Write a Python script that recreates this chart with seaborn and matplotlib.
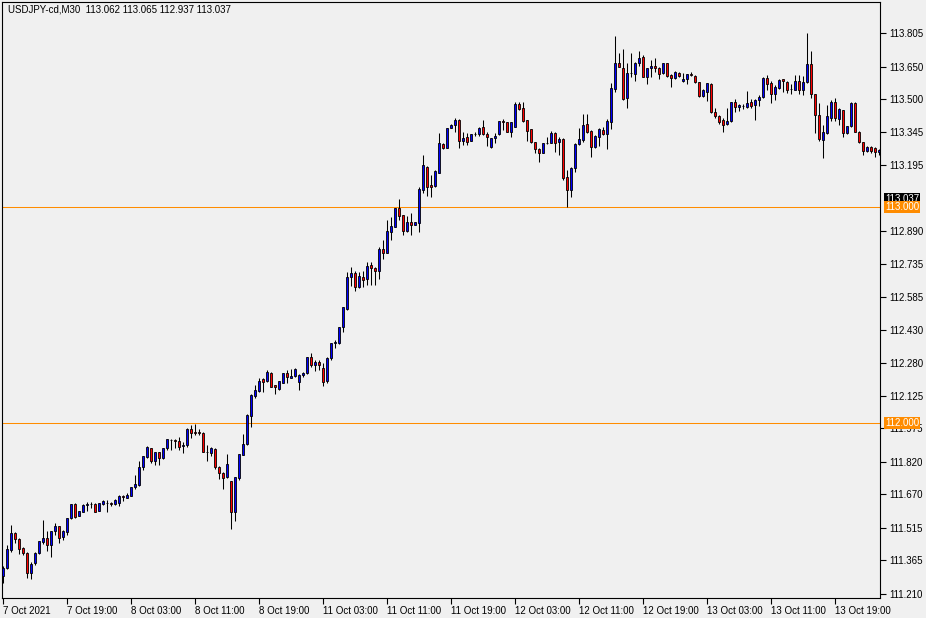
import numpy as np
import pandas as pd
import seaborn as sns
import matplotlib
matplotlib.use("Agg")
import matplotlib.pyplot as plt

# ---------------- data ----------------
opens = [
    111.290, 111.330, 111.412, 111.491, 111.463, 111.421, 111.398, 111.306, 111.352, 111.398,
    111.449, 111.468, 111.435, 111.500, 111.523, 111.472, 111.495, 111.560, 111.625, 111.570,
    111.588, 111.620, 111.625, 111.625, 111.593, 111.625, 111.632, 111.628, 111.625, 111.630,
    111.660, 111.655, 111.663, 111.704, 111.713, 111.795, 111.843, 111.883, 111.826, 111.864,
    111.836, 111.883, 111.922, 111.920, 111.917, 111.893, 111.898, 111.971, 111.960, 111.957,
    111.952, 111.867, 111.862, 111.878, 111.798, 111.767, 111.749, 111.731, 111.587, 111.744,
    111.852, 111.901, 112.034, 112.126, 112.150, 112.202, 112.196, 112.230, 112.176, 112.157,
    112.187, 112.230, 112.210, 112.218, 112.191, 112.222, 112.230, 112.304, 112.269, 112.284,
    112.255, 112.196, 112.300, 112.369, 112.369, 112.443, 112.528, 112.677, 112.693, 112.628,
    112.674, 112.665, 112.731, 112.716, 112.705, 112.804, 112.789, 112.886, 112.909, 112.997,
    112.963, 112.890, 112.929, 112.917, 112.927, 113.079, 113.187, 113.102, 113.099, 113.159,
    113.292, 113.275, 113.367, 113.380, 113.403, 113.307, 113.323, 113.307, 113.336, 113.336,
    113.369, 113.338, 113.279, 113.318, 113.336, 113.398, 113.392, 113.349, 113.369, 113.475,
    113.457, 113.403, 113.360, 113.299, 113.267, 113.251, 113.295, 113.295, 113.341, 113.299,
    113.315, 113.137, 113.079, 113.182, 113.290, 113.310, 113.383, 113.352, 113.276, 113.325,
    113.356, 113.336, 113.392, 113.545, 113.665, 113.642, 113.503, 113.619, 113.614, 113.668,
    113.696, 113.603, 113.642, 113.653, 113.642, 113.619, 113.665, 113.611, 113.596, 113.622,
    113.583, 113.593, 113.614, 113.606, 113.577, 113.515, 113.534, 113.569, 113.438, 113.421,
    113.403, 113.383, 113.398, 113.485, 113.462, 113.466, 113.463, 113.485, 113.474, 113.497,
    113.508, 113.597, 113.574, 113.525, 113.551, 113.593, 113.579, 113.546, 113.543, 113.582,
    113.543, 113.577, 113.662, 113.523, 113.425, 113.312, 113.343, 113.413, 113.488, 113.406,
    113.449, 113.341, 113.375, 113.480, 113.349, 113.299, 113.261, 113.279, 113.272, 113.253,
]
highs = [
    111.340, 111.435, 111.528, 111.495, 111.468, 111.426, 111.403, 111.356, 111.403, 111.454,
    111.551, 111.500, 111.500, 111.537, 111.523, 111.505, 111.560, 111.625, 111.630, 111.593,
    111.625, 111.634, 111.634, 111.630, 111.630, 111.644, 111.644, 111.635, 111.648, 111.665,
    111.667, 111.676, 111.704, 111.759, 111.825, 111.847, 111.894, 111.883, 111.864, 111.866,
    111.885, 111.926, 111.926, 111.926, 111.935, 111.912, 111.975, 111.991, 111.995, 111.971,
    111.957, 111.898, 111.887, 111.883, 111.801, 111.775, 111.857, 111.731, 111.749, 111.856,
    111.949, 112.042, 112.134, 112.176, 112.207, 112.207, 112.245, 112.235, 112.176, 112.196,
    112.230, 112.245, 112.249, 112.253, 112.225, 112.238, 112.307, 112.323, 112.292, 112.292,
    112.279, 112.307, 112.372, 112.384, 112.446, 112.539, 112.700, 112.724, 112.705, 112.700,
    112.705, 112.747, 112.747, 112.724, 112.815, 112.847, 112.940, 112.952, 112.994, 113.037,
    112.963, 112.958, 112.971, 112.931, 113.094, 113.241, 113.190, 113.148, 113.171, 113.344,
    113.298, 113.364, 113.383, 113.411, 113.406, 113.349, 113.344, 113.338, 113.349, 113.372,
    113.403, 113.349, 113.321, 113.341, 113.398, 113.406, 113.395, 113.395, 113.487, 113.487,
    113.487, 113.403, 113.360, 113.302, 113.272, 113.295, 113.325, 113.352, 113.346, 113.323,
    113.318, 113.171, 113.184, 113.295, 113.364, 113.429, 113.429, 113.356, 113.333, 113.367,
    113.372, 113.406, 113.575, 113.792, 113.711, 113.730, 113.665, 113.711, 113.673, 113.724,
    113.704, 113.645, 113.681, 113.688, 113.647, 113.668, 113.668, 113.616, 113.631, 113.626,
    113.619, 113.616, 113.623, 113.611, 113.580, 113.545, 113.576, 113.573, 113.457, 113.426,
    113.413, 113.457, 113.488, 113.499, 113.477, 113.477, 113.536, 113.501, 113.500, 113.520,
    113.600, 113.610, 113.582, 113.566, 113.593, 113.594, 113.582, 113.569, 113.610, 113.610,
    113.605, 113.806, 113.721, 113.523, 113.481, 113.381, 113.474, 113.495, 113.503, 113.457,
    113.449, 113.375, 113.487, 113.487, 113.353, 113.302, 113.282, 113.284, 113.276, 113.270,
]
lows = [
    111.260, 111.324, 111.403, 111.444, 111.394, 111.389, 111.282, 111.278, 111.343, 111.394,
    111.440, 111.407, 111.380, 111.481, 111.444, 111.458, 111.481, 111.556, 111.560, 111.570,
    111.588, 111.593, 111.607, 111.588, 111.593, 111.620, 111.588, 111.618, 111.620, 111.616,
    111.641, 111.651, 111.660, 111.695, 111.710, 111.782, 111.840, 111.817, 111.806, 111.806,
    111.833, 111.875, 111.875, 111.883, 111.875, 111.859, 111.890, 111.931, 111.944, 111.944,
    111.864, 111.826, 111.847, 111.786, 111.739, 111.693, 111.744, 111.508, 111.548, 111.736,
    111.852, 111.898, 111.983, 112.117, 112.145, 112.145, 112.191, 112.165, 112.133, 112.153,
    112.184, 112.187, 112.207, 112.214, 112.153, 112.214, 112.225, 112.261, 112.242, 112.245,
    112.171, 112.187, 112.292, 112.346, 112.366, 112.423, 112.523, 112.634, 112.611, 112.624,
    112.628, 112.639, 112.639, 112.639, 112.667, 112.758, 112.789, 112.847, 112.906, 112.940,
    112.870, 112.886, 112.870, 112.915, 112.886, 113.063, 113.051, 113.048, 113.094, 113.156,
    113.269, 113.275, 113.364, 113.349, 113.275, 113.287, 113.287, 113.304, 113.330, 113.330,
    113.333, 113.284, 113.275, 113.295, 113.333, 113.356, 113.346, 113.325, 113.369, 113.449,
    113.395, 113.307, 113.295, 113.248, 113.210, 113.248, 113.292, 113.295, 113.253, 113.241,
    113.125, 113.002, 113.048, 113.163, 113.287, 113.302, 113.341, 113.233, 113.272, 113.284,
    113.333, 113.267, 113.361, 113.534, 113.647, 113.495, 113.457, 113.604, 113.585, 113.653,
    113.600, 113.569, 113.600, 113.626, 113.591, 113.616, 113.603, 113.557, 113.593, 113.604,
    113.577, 113.568, 113.608, 113.575, 113.511, 113.511, 113.492, 113.437, 113.411, 113.384,
    113.349, 113.380, 113.395, 113.438, 113.443, 113.454, 113.458, 113.458, 113.404, 113.469,
    113.505, 113.543, 113.481, 113.497, 113.548, 113.531, 113.528, 113.525, 113.540, 113.525,
    113.520, 113.574, 113.505, 113.343, 113.304, 113.227, 113.339, 113.400, 113.400, 113.380,
    113.323, 113.336, 113.372, 113.346, 113.295, 113.241, 113.256, 113.248, 113.233, 113.240,
]
closes = [
    111.330, 111.417, 111.491, 111.463, 111.417, 111.398, 111.306, 111.347, 111.398, 111.454,
    111.468, 111.435, 111.500, 111.523, 111.468, 111.500, 111.560, 111.625, 111.565, 111.593,
    111.620, 111.625, 111.623, 111.588, 111.630, 111.639, 111.630, 111.625, 111.642, 111.662,
    111.658, 111.667, 111.704, 111.718, 111.796, 111.847, 111.887, 111.826, 111.864, 111.836,
    111.883, 111.926, 111.920, 111.917, 111.890, 111.898, 111.971, 111.952, 111.952, 111.955,
    111.867, 111.866, 111.883, 111.798, 111.767, 111.744, 111.809, 111.589, 111.749, 111.856,
    111.903, 112.037, 112.130, 112.153, 112.196, 112.191, 112.235, 112.168, 112.165, 112.194,
    112.230, 112.212, 112.218, 112.250, 112.222, 112.233, 112.304, 112.269, 112.281, 112.269,
    112.191, 112.300, 112.369, 112.376, 112.443, 112.536, 112.677, 112.693, 112.628, 112.681,
    112.662, 112.727, 112.716, 112.705, 112.804, 112.789, 112.889, 112.912, 112.994, 112.960,
    112.890, 112.929, 112.917, 112.929, 113.083, 113.194, 113.094, 113.094, 113.167, 113.295,
    113.275, 113.364, 113.380, 113.403, 113.307, 113.318, 113.302, 113.336, 113.338, 113.367,
    113.336, 113.325, 113.318, 113.329, 113.398, 113.392, 113.349, 113.392, 113.475, 113.452,
    113.398, 113.353, 113.299, 113.267, 113.251, 113.295, 113.296, 113.341, 113.295, 113.315,
    113.136, 113.079, 113.179, 113.290, 113.313, 113.380, 113.349, 113.276, 113.329, 113.361,
    113.336, 113.398, 113.549, 113.665, 113.650, 113.499, 113.619, 113.620, 113.665, 113.688,
    113.603, 113.642, 113.653, 113.642, 113.614, 113.665, 113.606, 113.596, 113.626, 113.608,
    113.591, 113.614, 113.612, 113.577, 113.515, 113.542, 113.573, 113.438, 113.421, 113.395,
    113.380, 113.398, 113.485, 113.462, 113.471, 113.467, 113.481, 113.469, 113.497, 113.509,
    113.597, 113.571, 113.525, 113.554, 113.587, 113.582, 113.543, 113.546, 113.582, 113.543,
    113.579, 113.662, 113.523, 113.425, 113.316, 113.347, 113.420, 113.488, 113.411, 113.452,
    113.341, 113.375, 113.480, 113.349, 113.299, 113.261, 113.279, 113.261, 113.253, 113.264,
]
time_labels = [
    "7 Oct 2021", "7 Oct 19:00", "8 Oct 03:00", "8 Oct 11:00", "8 Oct 19:00",
    "11 Oct 03:00", "11 Oct 11:00", "11 Oct 19:00", "12 Oct 03:00", "12 Oct 11:00",
    "12 Oct 19:00", "13 Oct 03:00", "13 Oct 11:00", "13 Oct 19:00",
]
label_step = 16
price_ticks = [
    113.805, 113.650, 113.500, 113.345, 113.195, 112.890, 112.735, 112.585, 112.430,
    112.280, 112.125, 111.975, 111.820, 111.670, 111.515, 111.365, 111.210,
]
level_lines = [113.000, 112.000]
current_price = 113.037
header = "USDJPY-cd,M30  113.062 113.065 112.937 113.037"

# ---------------- style ----------------
sns.set_theme(style="white")
plt.rcParams["font.family"] = ["Liberation Sans", "DejaVu Sans"]
BG = "#f0f0f0"
UP = "#0000ff"
DOWN = "#ff0000"
LEVEL = "#ff8c00"

df = pd.DataFrame({"open": opens, "high": highs, "low": lows, "close": closes})
df["bar"] = np.arange(len(df))
df["up"] = df["close"] >= df["open"]

W, H = 926, 618
fig = plt.figure(figsize=(W / 100, H / 100), dpi=100, facecolor=BG)
ax = fig.add_axes([2 / W, 20 / H, 878 / W, 596 / H])
ax.set_facecolor(BG)

# level lines
for lv in level_lines:
    ax.axhline(lv, color=LEVEL, linewidth=0.75, zorder=1)

# wicks and bodies
ax.vlines(df["bar"], df["low"], df["high"], color="black", linewidth=0.75, zorder=2)
ax.bar(df["bar"], df["close"] - df["open"], bottom=df["open"], width=0.68,
       color=np.where(df["up"], UP, DOWN), edgecolor="black", linewidth=0.6, zorder=3)

ax.set_xlim(-0.25, 219.25)
ax.set_ylim(111.190, 113.949)

# axes
for s in ax.spines.values():
    s.set_color("black")
    s.set_linewidth(0.8)
ax.yaxis.tick_right()
ax.set_yticks(price_ticks)
ax.set_yticklabels([f"{v:.3f}" for v in price_ticks])
ax.tick_params(axis="y", which="both", right=True, left=False, length=4, width=0.8,
               pad=3, labelsize=7, colors="black", direction="out")
ax.set_xticks(np.arange(len(time_labels)) * label_step)
ax.set_xticklabels(time_labels)
for lbl in ax.get_xticklabels():
    lbl.set_horizontalalignment("left")
ax.tick_params(axis="x", which="both", bottom=True, length=4, width=0.8, pad=2,
               labelsize=7, colors="black", direction="out")
ax.set_xlabel("")
ax.set_ylabel("")

# header text
ax.text(6 / 878, 1 - 8 / 596, header, transform=ax.transAxes, fontsize=7,
        color="black", ha="left", va="center")

# price boxes on the right axis
ytr = ax.get_yaxis_transform()
ax.text(1 + 5 / 878, current_price, f"{current_price:.3f}", transform=ytr, fontsize=7,
        color="white", ha="left", va="center", clip_on=False, zorder=5,
        bbox=dict(boxstyle="square,pad=0.12", facecolor="black", edgecolor="none"))
for lv in level_lines:
    ax.text(1 + 5 / 878, lv, f"{lv:.3f}", transform=ytr, fontsize=7, color="white",
            ha="left", va="center", clip_on=False, zorder=6,
            bbox=dict(boxstyle="square,pad=0.12", facecolor=LEVEL, edgecolor="none"))

fig.savefig("out.png", dpi=100, facecolor=BG)
